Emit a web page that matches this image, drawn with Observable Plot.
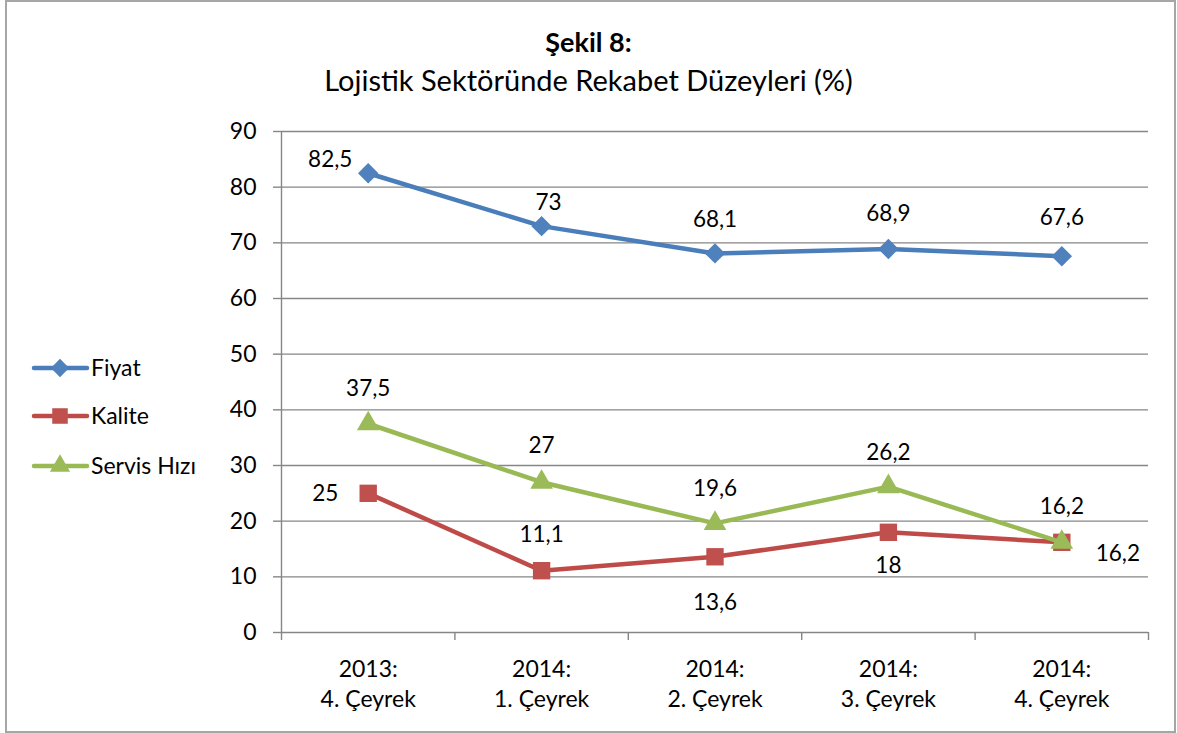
<!DOCTYPE html>
<html><head><meta charset="utf-8">
<script src="https://cdn.jsdelivr.net/npm/d3@7"></script>
<script src="https://cdn.jsdelivr.net/npm/@observablehq/plot@0.6"></script>
<style>
body{margin:0;background:#fff;font-family:Lato, sans-serif;}
#wrap{position:relative;width:1177px;height:733px;overflow:hidden;background:#fff;}
#frame{position:absolute;left:5px;top:0;width:1171px;height:733px;border:2px solid #a6a6a6;box-sizing:border-box;}
.t{position:absolute;left:0;width:1177px;text-align:center;color:#000;line-height:34px;}
#title{top:25px;font-size:27px;font-weight:bold;}
#subtitle{top:63px;font-size:29px;}
#chart{position:absolute;left:0;top:0;}
#legend{position:absolute;left:0;top:0;}
</style></head>
<body>
<div id="wrap">
  <div id="frame"></div>
  <div id="chart"></div>
  <div class="t" id="title">Şekil 8:</div>
  <div class="t" id="subtitle">Lojistik Sektöründe Rekabet Düzeyleri (%)</div>
  <svg id="legend" width="260" height="733"></svg>
</div>
<script>
const categories = ["2013:\n4. Çeyrek", "2014:\n1. Çeyrek", "2014:\n2. Çeyrek", "2014:\n3. Çeyrek", "2014:\n4. Çeyrek"];
const seriesNames = ["Fiyat", "Kalite", "Servis Hızı"];
const fiyat = [82.5, 73, 68.1, 68.9, 67.6];
const kalite = [25, 11.1, 13.6, 18, 16.2];
const servisHizi = [37.5, 27, 19.6, 26.2, 16.2];
const yTicks = [0, 10, 20, 30, 40, 50, 60, 70, 80, 90];

const seriesValues = [fiyat, kalite, servisHizi];
const lineColors = ["#4A7EBB", "#BE4B48", "#98B954"];
const markColors = ["#4F81BD", "#C0504D", "#9BBB59"];
const symbols = ["diamond2", "square", "triangle"];
const symbolR = [9.2, 9.8, 8.4];
// label offsets (px) per series / point
const labelOffsets = [
  [[-38, -13], [7, -23], [0, -34], [0, -35], [0, -38]],
  [[-43, 0], [0, -36], [0, 46], [0, 33], [56, 11]],
  [[0, -35], [0, -36], [0, -35], [0, -34], [0, -36]]
];

const fmt = v => String(v).replace(".", ",");
const rowsBySeries = seriesNames.map((s, si) =>
  seriesValues[si].map((v, i) => ({series: s, si, i, x: i + 0.5, value: v, label: fmt(v)})));

const marks = [
  Plot.gridY(yTicks, {stroke: "#868686", strokeOpacity: 1, strokeWidth: 1.4}),
  Plot.ruleX([0], {stroke: "#868686", strokeWidth: 1.4}),
  Plot.axisY(yTicks, {tickSize: 8, tickPadding: 17, fontSize: 23, stroke: "#868686", strokeWidth: 1.4, color: "#000", label: null}),
  Plot.axisX([0, 1, 2, 3, 4, 5], {tickSize: 8, text: null, stroke: "#868686", strokeWidth: 1.4, label: null}),
  Plot.axisX(categories.map((c, i) => i + 0.5), {tickSize: 0, tickPadding: 23, fontSize: 23, lineHeight: 1.3,
    tickFormat: d => categories[Math.round(d - 0.5)], color: "#000", label: null})
];
rowsBySeries.forEach((rows, si) => {
  marks.push(Plot.line(rows, {x: "x", y: "value", stroke: lineColors[si], strokeWidth: 4.5, strokeLinejoin: "round", strokeLinecap: "round"}));
  marks.push(Plot.dot(rows, {x: "x", y: "value", symbol: symbols[si], r: symbolR[si], fill: markColors[si], stroke: "none"}));
});
rowsBySeries.forEach((rows, si) => {
  rows.forEach((r, i) => {
    marks.push(Plot.text([r], {x: "x", y: "value", text: "label", dx: labelOffsets[si][i][0], dy: labelOffsets[si][i][1], fontSize: 22.5, fill: "#000"}));
  });
});

const chart = Plot.plot({
  width: 1177, height: 733,
  marginLeft: 281, marginRight: 29, marginTop: 131, marginBottom: 101,
  x: {domain: [0, 5]},
  y: {domain: [0, 90]},
  style: {fontFamily: "Lato, sans-serif", background: "transparent", color: "#000"},
  marks
});
document.getElementById("chart").appendChild(chart);

// legend
const lg = d3.select("#legend");
const legendY = [368, 416, 466];
const symGen = [d3.symbolDiamond2, d3.symbolSquare, d3.symbolTriangle];
seriesNames.forEach((s, si) => {
  const g = lg.append("g").attr("transform", `translate(0,${legendY[si]})`);
  g.append("line").attr("x1", 34).attr("x2", 87).attr("y1", 0).attr("y2", 0)
    .attr("stroke", lineColors[si]).attr("stroke-width", 4.5).attr("stroke-linecap", "round");
  g.append("path").attr("transform", "translate(60,0)")
    .attr("d", d3.symbol(symGen[si], Math.PI * symbolR[si] * symbolR[si] * 0.8)())
    .attr("fill", markColors[si]);
  g.append("text").attr("x", 91).attr("y", 0).attr("dy", "0.35em")
    .attr("font-size", 23).attr("font-family", "Lato, sans-serif").text(s);
});
</script>
</body></html>
